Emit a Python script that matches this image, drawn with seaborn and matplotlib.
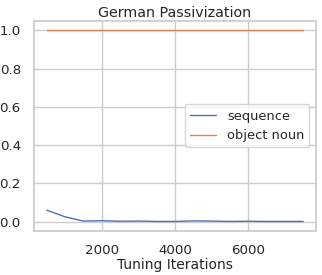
import numpy as np
import pandas as pd
import matplotlib
matplotlib.use('Agg')
import matplotlib.pyplot as plt
import seaborn as sns

iterations = [500, 1000, 1500, 2000, 2500, 3000, 3500, 4000, 4500, 5000, 5500, 6000, 6500, 7000, 7500]
sequence = [0.06, 0.025, 0.003, 0.005, 0.002, 0.003, 0.001, 0.001, 0.004, 0.003, 0.001, 0.002, 0.001, 0.001, 0.001]
object_noun = [1.0] * len(iterations)

sns.set_theme(style='whitegrid', rc={
    'xtick.labelsize': 9.6, 'ytick.labelsize': 9.6,
    'axes.labelsize': 10, 'axes.titlesize': 10.3,
    'legend.fontsize': 9.4,
    'xtick.major.pad': 3, 'ytick.major.pad': 3.5,
})

df = pd.DataFrame({
    'Tuning Iterations': iterations * 2,
    'Accuracy': sequence + object_noun,
    'metric': ['sequence'] * len(iterations) + ['object noun'] * len(iterations),
})

fig = plt.figure(figsize=(3.22, 2.75), dpi=100)
ax = fig.add_axes([0.1056, 0.16, 0.8758, 0.764])
sns.lineplot(data=df, x='Tuning Iterations', y='Accuracy', hue='metric', ax=ax, linewidth=1)
ax.set_title('German Passivization', pad=3)
ax.set_xticks([2000, 4000, 6000])
ax.xaxis.labelpad = 1
ax.legend(loc='center right')
fig.savefig('out.png', dpi=100)
